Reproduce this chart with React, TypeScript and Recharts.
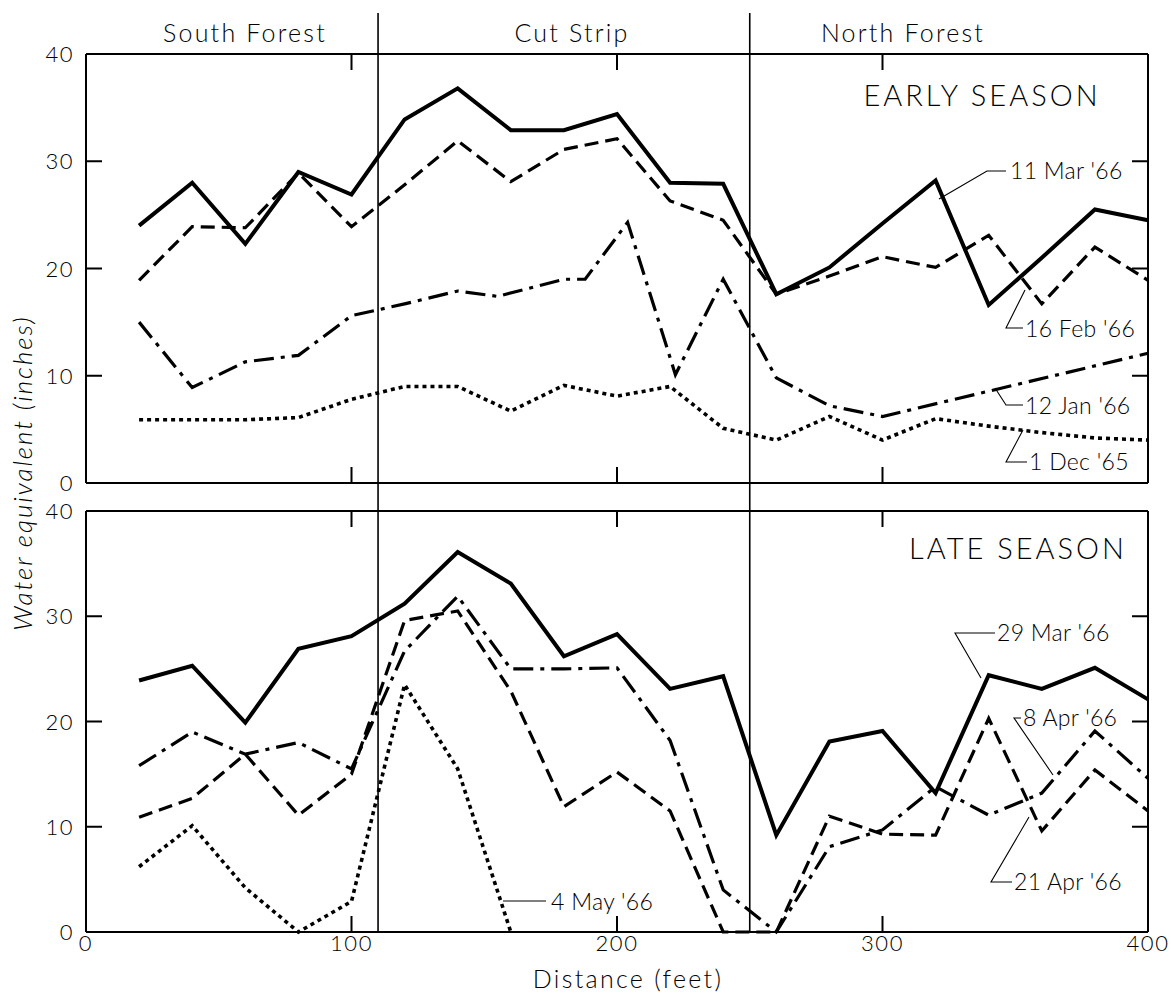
import { LineChart, Line, XAxis, YAxis, ReferenceLine } from 'recharts';

document.body.style.margin = '0';

const FONT = "Lato, 'DejaVu Sans', sans-serif";

// distance along the transect, feet
const distance = [20, 40, 60, 80, 100, 120, 140, 160, 180, 200, 220, 240, 260, 280, 300, 320, 340, 360, 380, 400];

// early season (water equivalent, inches)
const mar11 = [24, 28, 22.3, 29, 26.9, 33.9, 36.8, 32.9, 32.9, 34.4, 28, 27.9, 17.6, 20.1, 24.2, 28.2, 16.6, 21, 25.5, 24.5];
const feb16 = [18.9, 23.9, 23.8, 28.9, 23.9, 27.8, 31.9, 28.1, 31.1, 32.1, 26.3, 24.5, 17.6, 19.3, 21.1, 20.1, 23.1, 16.7, 22.0, 18.9];
const jan12Distance = [20, 40, 60, 80, 100, 120, 140, 155, 180, 188, 204, 222, 240, 260, 280, 300, 400];
const jan12 = [15.0, 8.9, 11.3, 11.9, 15.6, 16.7, 17.9, 17.4, 19.0, 19.0, 24.3, 10.1, 19.0, 9.8, 7.2, 6.2, 12.1];
const dec1 = [5.9, 5.9, 5.9, 6.1, 7.8, 9.0, 9.0, 6.7, 9.1, 8.1, 9.0, 5.1, 4.0, 6.2, 4.0, 6.0, 5.3, 4.7, 4.2, 4.0];

// late season
const mar29 = [23.9, 25.3, 19.9, 26.9, 28.1, 31.2, 36.1, 33.1, 26.2, 28.3, 23.1, 24.3, 9.2, 18.1, 19.1, 13.2, 24.4, 23.1, 25.1, 22.1];
const apr8 = [15.8, 19.0, 16.9, 18.0, 15.5, 26.7, 31.9, 25.0, 25.0, 25.1, 18.2, 4.0, 0, 8.1, 9.7, 13.8, 11.1, 13.2, 19.1, 14.6];
const apr21 = [10.9, 12.7, 16.9, 11.1, 15.0, 29.6, 30.5, 22.9, 11.9, 15.2, 11.5, 0, 0, 11.0, 9.3, 9.2, 20.3, 9.6, 15.4, 11.5];
const may4Distance = [20, 40, 60, 80, 100, 120, 140, 160];
const may4 = [6.2, 10.1, 4.2, 0, 2.9, 23.5, 15.5, 0];

const xTicks = [0, 100, 200, 300, 400];
const yTicks = [0, 10, 20, 30, 40];
const innerXTicks = [100, 200, 300];
const innerYTicks = [10, 20, 30];
const zones = [
  { name: 'South Forest', at: 245 },
  { name: 'Cut Strip', at: 572 },
  { name: 'North Forest', at: 903 },
];
const boundaries = [110, 250];

const W = 1171;
const H = 999;
const LEFT = 86;
const RIGHT = 1148;
const TOP_PANEL = { top: 54, bottom: 483 };
const LOW_PANEL = { top: 511, bottom: 932 };
const PLOT_W = RIGHT - LEFT;
const TICK = 16;
const Y_AXIS_W = 60;
const X_AXIS_H = 40;

const toPoints = (xs: number[], ys: number[]) => xs.map((x, i) => ({ x, y: ys[i] }));

const solid = { stroke: '#000', strokeWidth: 4 };
const dashed = { stroke: '#000', strokeWidth: 3.2, strokeDasharray: '14 7' };
const dashDot = { stroke: '#000', strokeWidth: 3.2, strokeDasharray: '20 7 4 7' };
const dotted = { stroke: '#000', strokeWidth: 3.6, strokeDasharray: '4 4' };

function YTick(props: any) {
  const x = Number(props.x);
  const y = Number(props.y);
  return (
    <text x={x - 12} y={y + 8} textAnchor="end" fontFamily={FONT} fontWeight={300} fontSize={22} letterSpacing={1.5} fill="#000">
      {props.payload.value}
    </text>
  );
}

function XTick(props: any) {
  if (!props.showLabel) return <g />;
  const x = Number(props.x);
  const y = Number(props.y);
  return (
    <text x={x} y={y + 19} textAnchor="middle" fontFamily={FONT} fontWeight={300} fontSize={22} letterSpacing={1.5} fill="#000">
      {props.payload.value}
    </text>
  );
}

// short inward tick marks on the four edges of both frames
function FrameTicks() {
  let d = '';
  [TOP_PANEL, LOW_PANEL].forEach((panel) => {
    const plotH = panel.bottom - panel.top;
    const px = (v: number) => LEFT + (v / 400) * PLOT_W;
    const py = (v: number) => panel.bottom - (v / 40) * plotH;
    innerXTicks.forEach((v) => {
      d += `M${px(v)} ${panel.bottom} L${px(v)} ${panel.bottom - TICK} M${px(v)} ${panel.top} L${px(v)} ${panel.top + TICK} `;
    });
    innerYTicks.forEach((v) => {
      d += `M${LEFT} ${py(v)} L${LEFT + TICK} ${py(v)} M${RIGHT - TICK} ${py(v)} L${RIGHT} ${py(v)} `;
    });
  });
  return (
    <svg width={W} height={H} style={{ position: 'absolute', left: 0, top: 0, pointerEvents: 'none' }}>
      <path d={d} stroke="#000" strokeWidth={2} fill="none" />
    </svg>
  );
}

const Note = ({ x, y, text, leader, anchor = 'start', size = 23, spacing = 0.3 }: any) => (
  <g>
    {leader && <polyline points={leader} fill="none" stroke="#000" strokeWidth={1.1} />}
    <text x={x} y={y} textAnchor={anchor} fontFamily={FONT} fontWeight={300} fontSize={size} letterSpacing={spacing} fill="#000">
      {text}
    </text>
  </g>
);

const topBoundary = (props: any) => (
  <line x1={props.x1} x2={props.x2} y1={13} y2={LOW_PANEL.top} stroke="#000" strokeWidth={1.6} />
);
const lowBoundary = (props: any) => (
  <line x1={props.x1} x2={props.x2} y1={props.y1} y2={props.y2} stroke="#000" strokeWidth={1.6} />
);

function Panel({ panel, series, showXLabels, boundaryShape, children }: any) {
  return (
    <div style={{ position: 'absolute', left: 0, top: 0 }}>
      <LineChart
        width={W}
        height={H}
        margin={{ top: panel.top, left: LEFT - Y_AXIS_W, right: W - RIGHT, bottom: H - panel.bottom - X_AXIS_H }}
      >
        <XAxis
          type="number"
          dataKey="x"
          domain={[0, 400]}
          ticks={xTicks}
          height={X_AXIS_H}
          tickSize={0}
          tickMargin={0}
          tickLine={false}
          axisLine={{ stroke: '#000', strokeWidth: 2 }}
          interval={0}
          tick={<XTick showLabel={showXLabels} />}
          allowDuplicatedCategory={false}
        />
        <YAxis
          type="number"
          domain={[0, 40]}
          ticks={yTicks}
          width={Y_AXIS_W}
          tickSize={0}
          tickMargin={0}
          tickLine={false}
          axisLine={{ stroke: '#000', strokeWidth: 2 }}
          interval={0}
          tick={<YTick />}
        />
        <ReferenceLine y={40} stroke="#000" strokeWidth={2} />
        <ReferenceLine x={400} stroke="#000" strokeWidth={2} />
        {boundaries.map((b) => (
          <ReferenceLine key={b} x={b} stroke="#000" shape={boundaryShape} />
        ))}
        {series.map((s: any) => (
          <Line
            key={s.name}
            name={s.name}
            data={s.data}
            dataKey="y"
            type="linear"
            dot={false}
            isAnimationActive={false}
            fill="none"
            {...s.style}
          />
        ))}
        {children}
      </LineChart>
    </div>
  );
}

export default function App() {
  const earlySeries = [
    { name: "11 Mar '66", data: toPoints(distance, mar11), style: solid },
    { name: "16 Feb '66", data: toPoints(distance, feb16), style: dashed },
    { name: "12 Jan '66", data: toPoints(jan12Distance, jan12), style: dashDot },
    { name: "1 Dec '65", data: toPoints(distance, dec1), style: dotted },
  ];
  const lateSeries = [
    { name: "29 Mar '66", data: toPoints(distance, mar29), style: solid },
    { name: "8 Apr '66", data: toPoints(distance, apr8), style: dashDot },
    { name: "21 Apr '66", data: toPoints(distance, apr21), style: dashed },
    { name: "4 May '66", data: toPoints(may4Distance, may4), style: dotted },
  ];

  return (
    <div style={{ position: 'relative', width: W, height: H, background: '#fff' }}>
      <Panel panel={TOP_PANEL} series={earlySeries} showXLabels={false} boundaryShape={topBoundary}>
        {zones.map((z) => (
          <text key={z.name} x={z.at} y={42} textAnchor="middle" fontFamily={FONT} fontWeight={300} fontSize={25} letterSpacing={2.2} fill="#000">
            {z.name}
          </text>
        ))}
        <text
          x={22}
          y={473}
          transform="rotate(-90 22 473)"
          textAnchor="middle"
          dominantBaseline="central"
          fontFamily={FONT}
          fontWeight={300}
          fontStyle="italic"
          fontSize={26}
          letterSpacing={2}
          fill="#000"
        >
          Water equivalent (inches)
        </text>
        <Note x={982} y={106} text="EARLY  SEASON" anchor="middle" size={29} spacing={3} />
        <Note x={1010} y={179} text="11 Mar '66" leader="1006,171 987,171 939,199" />
        <Note x={1025} y={337} text="16 Feb '66" leader="1023,328 1006,328 1025,290" />
        <Note x={1025} y={414} text="12 Jan '66" leader="1023,405 1006,405 995,388" />
        <Note x={1029} y={470} text="1 Dec '65" leader="1027,462 1006,462 1023,430" />
      </Panel>
      <Panel panel={LOW_PANEL} series={lateSeries} showXLabels={true} boundaryShape={lowBoundary}>
        <Note x={1018} y={559} text="LATE  SEASON" anchor="middle" size={29} spacing={3} />
        <Note x={997} y={641} text="29 Mar '66" leader="995,633 955,633 981,678" />
        <Note x={1023} y={726} text="8 Apr '66" leader="1021,718 1014,718 1053,775" />
        <Note x={1014} y={890} text="21 Apr '66" leader="1012,882 991,882 1029,817" />
        <Note x={551} y={910} text="4 May '66" leader="503,901 546,901" />
        <text x={628} y={988} textAnchor="middle" fontFamily={FONT} fontWeight={300} fontSize={25} letterSpacing={2.3} fill="#000">
          Distance (feet)
        </text>
      </Panel>
      <FrameTicks />
    </div>
  );
}
